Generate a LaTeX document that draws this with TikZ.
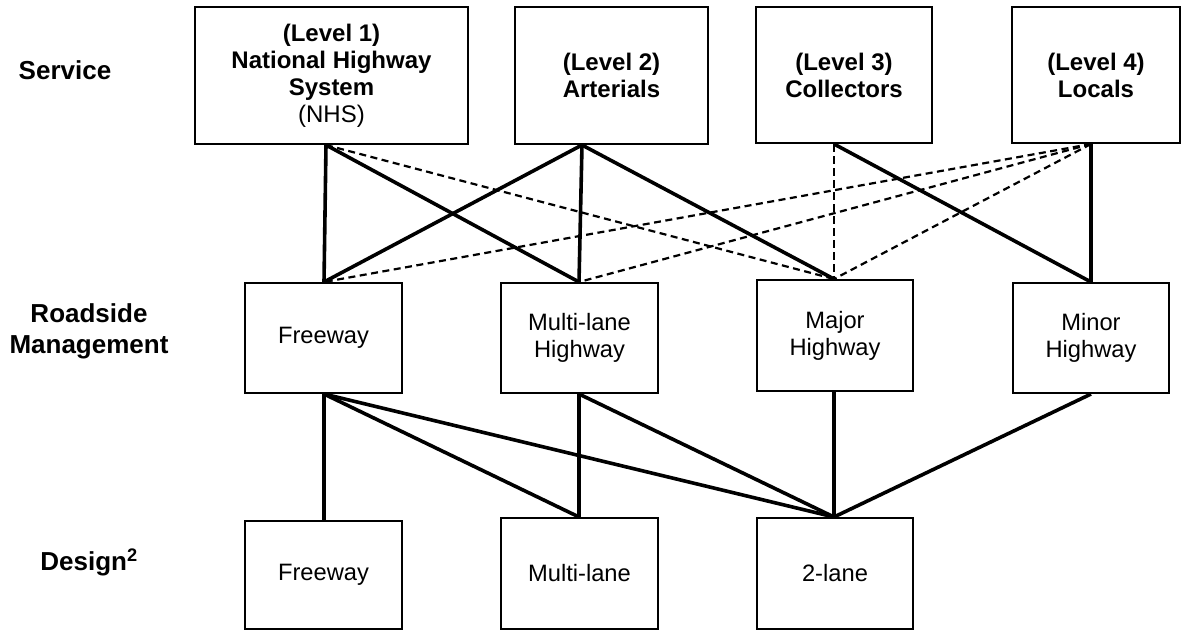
\documentclass[tikz,border=0pt]{standalone}
\usepackage{fontspec}
\setmainfont{Liberation Sans}
\begin{document}
\begin{tikzpicture}[x=1pt,y=-1pt,
 box/.style={draw, line width=2pt, inner sep=0pt, align=center, font=\fontsize{23.7}{27}\selectfont},
 topbox/.style={box, font=\fontsize{24}{27}\selectfont\bfseries},
 lbl/.style={align=center, font=\fontsize{26}{31}\selectfont\bfseries, inner sep=0pt},
 solidlink/.style={line width=3.6pt},
 dashlink/.style={line width=2.2pt, dash pattern=on 7pt off 4.5pt},
 thindash/.style={line width=1.2pt, dash pattern=on 8pt off 4pt}]
\useasboundingbox (0,0) rectangle (1183,630);
% labels
\node[lbl] (lservice) at (65,70) {Service};
\node[lbl] (lroad) at (89,331) {Roadside\\Management};
\node[lbl] (ldesign) at (89,562) {Design\textsuperscript{2}};
% top row
\node[topbox, minimum width=273pt, minimum height=137pt] (t1) at (331.5,75.5) {(Level 1)\\National Highway\\System\\{\mdseries (NHS)}};
\node[topbox, minimum width=193pt, minimum height=137pt] (t2) at (611.5,75.5) {(Level 2)\\Arterials};
\node[topbox, minimum width=176pt, minimum height=136pt] (t3) at (844,75) {(Level 3)\\Collectors};
\node[topbox, minimum width=168pt, minimum height=136pt] (t4) at (1096,75) {(Level 4)\\Locals};
% middle row
\node[box, minimum width=157pt, minimum height=110pt] (m1) at (323.5,338) {Freeway};
\node[box, minimum width=157pt, minimum height=110pt] (m2) at (579.5,338) {Multi-lane\\Highway};
\node[box, minimum width=156pt, minimum height=111pt] (m3) at (835,335.5) {Major\\Highway};
\node[box, minimum width=156pt, minimum height=110pt] (m4) at (1091,338) {Minor\\Highway};
% bottom row
\node[box, minimum width=157pt, minimum height=108pt] (b1) at (323.5,575) {Freeway};
\node[box, minimum width=157pt, minimum height=111pt] (b2) at (579.5,573.5) {Multi-lane};
\node[box, minimum width=156pt, minimum height=111pt] (b3) at (835,573.5) {2-lane};
% connection points
\coordinate (t1p) at ([xshift=-5.5pt]t1.south);
\coordinate (t2p) at ([xshift=-29.5pt]t2.south);
\coordinate (t3p) at ([xshift=-10pt]t3.south);
\coordinate (t4p) at ([xshift=-5pt]t4.south);
\coordinate (m1t) at ([xshift=0.5pt]m1.north);
\coordinate (m2t) at ([xshift=-0.5pt]m2.north);
\coordinate (m3t) at ([xshift=-1pt]m3.north);
\coordinate (m4t) at (m4.north);
\coordinate (m1b) at ([xshift=0.5pt]m1.south);
\coordinate (m2b) at ([xshift=-0.5pt]m2.south);
\coordinate (m3b) at ([xshift=-1pt]m3.south);
\coordinate (m4b) at (m4.south);
\coordinate (b1t) at ([xshift=0.5pt]b1.north);
\coordinate (b2t) at ([xshift=-0.5pt]b2.north);
\coordinate (b3t) at ([xshift=-1pt]b3.north);
% top to middle
\draw[solidlink] (t1p) -- (m1t);
\draw[solidlink] (t1p) -- (m2t);
\draw[solidlink] (t2p) -- (m1t);
\draw[solidlink] (t2p) -- (m2t);
\draw[solidlink] (t2p) -- (m3t);
\draw[solidlink] (t3p) -- (m4t);
\draw[solidlink] (t4p) -- (m4t);
\draw[dashlink] (t1p) -- (m3t);
\draw[dashlink] (t4p) -- (m1t);
\draw[dashlink] (t4p) -- (m2t);
\draw[dashlink] (t4p) -- (m3t);
\draw[thindash] (t3p) -- (m3t);
% middle to bottom
\draw[solidlink] (m1b) -- (b1t);
\draw[solidlink] (m1b) -- (b2t);
\draw[solidlink] (m1b) -- (b3t);
\draw[solidlink] (m2b) -- (b2t);
\draw[solidlink] (m2b) -- (b3t);
\draw[solidlink] (m3b) -- (b3t);
\draw[solidlink] (m4b) -- (b3t);
\end{tikzpicture}
\end{document}
